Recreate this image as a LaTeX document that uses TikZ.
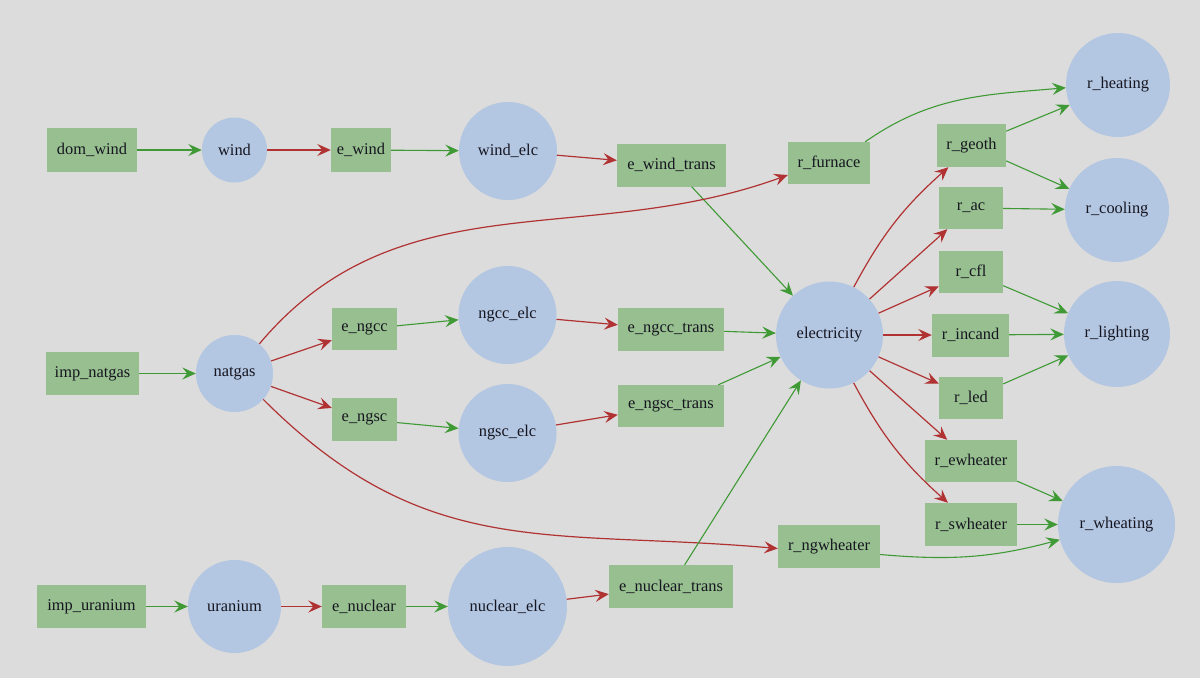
\documentclass[tikz,border=0pt]{standalone}
\usepackage{fontspec}
\setmainfont{Liberation Serif}
\usetikzlibrary{arrows.meta}
\definecolor{bgc}{HTML}{DCDCDC}
\definecolor{boxc}{HTML}{97BF8F}
\definecolor{circc}{HTML}{B3C6E2}
\definecolor{gline}{HTML}{3F9A35}
\definecolor{rline}{HTML}{B03232}
\definecolor{txt}{HTML}{161620}
\begin{document}
\begin{tikzpicture}[x=1pt,y=1pt,
  every node/.style={font=\fontsize{16.4}{19}\selectfont, text=txt},
  pbox/.style={rectangle, fill=boxc, draw=none, inner sep=0pt},
  cbox/.style={circle, fill=circc, draw=none, inner sep=0pt},
  garr/.style={draw=gline, line width=1.1pt, -{Stealth[length=13.5pt,width=12pt,inset=5pt]}},
  rarr/.style={draw=rline, line width=1.2pt, -{Stealth[length=13.5pt,width=12pt,inset=5pt]}}]
\fill[bgc] (0,0) rectangle (1200,-678);
\useasboundingbox (0,0) rectangle (1200,-678);
% wind row
\node[pbox, minimum width=90pt, minimum height=44pt] (dom_wind) at (92,-150) {dom\_wind};
\node[cbox, minimum size=65pt] (wind) at (234.5,-150) {wind};
\node[pbox, minimum width=60pt, minimum height=44pt] (e_wind) at (361,-150) {e\_wind};
\node[cbox, minimum size=98pt] (wind_elc) at (508,-151) {wind\_elc};
\node[pbox, minimum width=109pt, minimum height=43pt] (e_wind_trans) at (671.5,-165) {e\_wind\_trans};
% natgas
\node[pbox, minimum width=93pt, minimum height=43pt] (imp_natgas) at (92.5,-373.5) {imp\_natgas};
\node[cbox, minimum size=77pt] (natgas) at (234.5,-373.5) {natgas};
\node[pbox, minimum width=65pt, minimum height=42pt] (e_ngcc) at (364.5,-329) {e\_ngcc};
\node[pbox, minimum width=65pt, minimum height=43pt] (e_ngsc) at (364.5,-419.5) {e\_ngsc};
\node[cbox, minimum size=98pt] (ngcc_elc) at (507.5,-315) {ngcc\_elc};
\node[cbox, minimum size=98pt] (ngsc_elc) at (507.5,-433) {ngsc\_elc};
\node[pbox, minimum width=106pt, minimum height=43pt] (e_ngcc_trans) at (671,-329.5) {e\_ngcc\_trans};
\node[pbox, minimum width=106pt, minimum height=42pt] (e_ngsc_trans) at (671,-406) {e\_ngsc\_trans};
% uranium
\node[pbox, minimum width=109pt, minimum height=43pt] (imp_uranium) at (91.5,-606.5) {imp\_uranium};
\node[cbox, minimum size=93pt] (uranium) at (234.5,-606.5) {uranium};
\node[pbox, minimum width=84pt, minimum height=43pt] (e_nuclear) at (364,-606.5) {e\_nuclear};
\node[cbox, minimum size=119pt] (nuclear_elc) at (507.5,-606.5) {nuclear\_elc};
\node[pbox, minimum width=124pt, minimum height=43pt] (e_nuclear_trans) at (671,-586.5) {e\_nuclear\_trans};
% demand side
\node[cbox, minimum size=107pt] (electricity) at (829.5,-335) {electricity};
\node[pbox, minimum width=82pt, minimum height=42pt] (r_furnace) at (829,-163) {r\_furnace};
\node[pbox, minimum width=102pt, minimum height=43pt] (r_ngwheater) at (829,-546.5) {r\_ngwheater};
\node[pbox, minimum width=69pt, minimum height=43pt] (r_geoth) at (971.5,-145.5) {r\_geoth};
\node[pbox, minimum width=64pt, minimum height=42pt] (r_ac) at (971,-208) {r\_ac};
\node[pbox, minimum width=64pt, minimum height=42pt] (r_cfl) at (971,-272) {r\_cfl};
\node[pbox, minimum width=77pt, minimum height=43pt] (r_incand) at (970.5,-335) {r\_incand};
\node[pbox, minimum width=64pt, minimum height=42pt] (r_led) at (971,-398) {r\_led};
\node[pbox, minimum width=92pt, minimum height=42pt] (r_ewheater) at (971,-461) {r\_ewheater};
\node[pbox, minimum width=92pt, minimum height=43pt] (r_swheater) at (971,-524.5) {r\_swheater};
\node[cbox, minimum size=104pt] (r_heating) at (1118,-85) {r\_heating};
\node[cbox, minimum size=104pt] (r_cooling) at (1117,-210) {r\_cooling};
\node[cbox, minimum size=106pt] (r_lighting) at (1117,-334) {r\_lighting};
\node[cbox, minimum size=117pt] (r_wheating) at (1116.5,-524.5) {r\_wheating};
% edges
\draw[garr] (dom_wind) -- (wind);
\draw[rarr] (wind) -- (e_wind);
\draw[garr] (e_wind) -- (wind_elc);
\draw[rarr] (wind_elc) -- (e_wind_trans);
\draw[garr] (e_wind_trans) -- (electricity);
\draw[garr] (imp_natgas) -- (natgas);
\draw[rarr] (natgas) -- (e_ngcc);
\draw[rarr] (natgas) -- (e_ngsc);
\draw[garr] (e_ngcc) -- (ngcc_elc);
\draw[garr] (e_ngsc) -- (ngsc_elc);
\draw[rarr] (ngcc_elc) -- (e_ngcc_trans);
\draw[rarr] (ngsc_elc) -- (e_ngsc_trans);
\draw[garr] (e_ngcc_trans) -- (electricity);
\draw[garr] (e_ngsc_trans) -- (electricity);
\draw[rarr] (natgas.50) to[out=50,in=200] ([yshift=-12pt]r_furnace.west);
\draw[rarr] (natgas.-42) to[out=-45,in=175,looseness=1.1] ([yshift=-2pt]r_ngwheater.west);
\draw[garr] (imp_uranium) -- (uranium);
\draw[rarr] (uranium) -- (e_nuclear);
\draw[garr] (e_nuclear) -- (nuclear_elc);
\draw[rarr] (nuclear_elc) -- (e_nuclear_trans);
\draw[garr] (e_nuclear_trans) -- (electricity);
\draw[rarr] (electricity) to[bend left=10] (r_geoth);
\draw[rarr] (electricity) -- (r_ac);
\draw[rarr] (electricity) -- (r_cfl);
\draw[rarr] (electricity) -- (r_incand);
\draw[rarr] (electricity) -- (r_led);
\draw[rarr] (electricity) -- (r_ewheater);
\draw[rarr] (electricity) to[bend right=10] (r_swheater);
\draw[garr] ([xshift=-5pt]r_furnace.north east) to[out=35,in=185] (r_heating.183);
\draw[garr] (r_geoth) -- (r_heating);
\draw[garr] (r_geoth) -- (r_cooling);
\draw[garr] (r_ac) -- (r_cooling);
\draw[garr] (r_cfl) -- (r_lighting);
\draw[garr] (r_incand) -- (r_lighting);
\draw[garr] (r_led) -- (r_lighting);
\draw[garr] (r_ewheater) -- (r_wheating);
\draw[garr] (r_swheater) -- (r_wheating);
\draw[garr] ([yshift=-8pt]r_ngwheater.east) to[out=-5,in=195] (r_wheating.195);
\end{tikzpicture}
\end{document}
